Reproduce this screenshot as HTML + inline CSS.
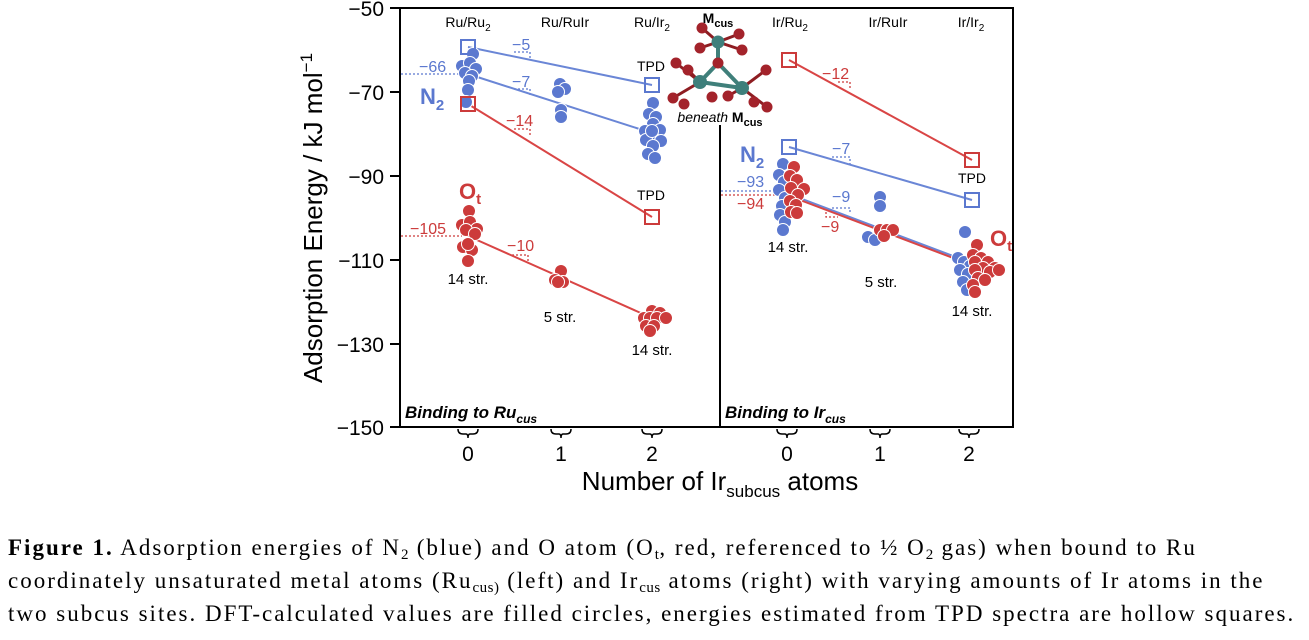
<!DOCTYPE html>
<html><head><meta charset="utf-8"><style>
body{margin:0;background:#fff;width:1309px;height:640px;overflow:hidden}
svg text{font-family:"Liberation Sans",Arial,sans-serif}
.cap{position:absolute;left:8px;top:531px;font-family:"Liberation Serif",serif;font-size:23px;line-height:33px;letter-spacing:2.0px;color:#000;white-space:nowrap}
.cap sub{font-size:15px;line-height:0;vertical-align:-4px;letter-spacing:0.5px}
</style></head><body>
<svg width="1309" height="640" style="position:absolute;left:0;top:0">
<defs>
<g id="b"><circle r="6.5" fill="#5b78cf" stroke="#fff" stroke-width="1"/></g>
<g id="r"><circle r="6.5" fill="#cc3b3b" stroke="#fff" stroke-width="1"/></g>
</defs>
<rect x="400" y="8" width="613" height="419" fill="none" stroke="#000" stroke-width="2"/>
<line x1="720" y1="125" x2="720" y2="427" stroke="#000" stroke-width="2"/>
<g stroke="#000" stroke-width="2">
<line x1="390" y1="8" x2="400" y2="8"/><line x1="390" y1="92" x2="400" y2="92"/><line x1="390" y1="176" x2="400" y2="176"/><line x1="390" y1="260" x2="400" y2="260"/><line x1="390" y1="344" x2="400" y2="344"/><line x1="390" y1="427" x2="400" y2="427"/>
</g>
<g font-size="21" text-anchor="end">
<text x="384" y="16">−50</text><text x="384" y="100">−70</text><text x="384" y="184">−90</text><text x="384" y="268">−110</text><text x="384" y="352">−130</text><text x="384" y="435">−150</text>
</g>
<text transform="translate(322,218) rotate(-90)" font-size="26" text-anchor="middle">Adsorption Energy / kJ mol<tspan dy="-10" font-size="17">−1</tspan></text>
<g fill="none" stroke="#000" stroke-width="1.5">
<path d="M458,429 q0,5 5,5 h3 q2,0 2,4 q0,-4 2,-4 h3 q5,0 5,-5"/>
<path d="M551,429 q0,5 5,5 h3 q2,0 2,4 q0,-4 2,-4 h3 q5,0 5,-5"/>
<path d="M642,429 q0,5 5,5 h3 q2,0 2,4 q0,-4 2,-4 h3 q5,0 5,-5"/>
<path d="M777,429 q0,5 5,5 h3 q2,0 2,4 q0,-4 2,-4 h3 q5,0 5,-5"/>
<path d="M870,429 q0,5 5,5 h3 q2,0 2,4 q0,-4 2,-4 h3 q5,0 5,-5"/>
<path d="M959,429 q0,5 5,5 h3 q2,0 2,4 q0,-4 2,-4 h3 q5,0 5,-5"/>
</g>
<g font-size="21" text-anchor="middle">
<text x="468" y="461">0</text><text x="561" y="461">1</text><text x="652" y="461">2</text>
<text x="787" y="461">0</text><text x="880" y="461">1</text><text x="969" y="461">2</text>
</g>
<text x="720" y="490" font-size="26" text-anchor="middle">Number of Ir<tspan dy="7" font-size="17">subcus</tspan><tspan dy="-7"> atoms</tspan></text>
<g font-size="17" font-weight="bold" font-style="italic">
<text x="405" y="418">Binding to Ru<tspan dy="5" font-size="12">cus</tspan></text>
<text x="725" y="418">Binding to Ir<tspan dy="5" font-size="12">cus</tspan></text>
</g>
<g font-size="14" text-anchor="middle">
<text x="468" y="27">Ru/Ru<tspan dy="4" font-size="10">2</tspan></text>
<text x="565" y="27">Ru/RuIr</text>
<text x="652" y="27">Ru/Ir<tspan dy="4" font-size="10">2</tspan></text>
<text x="790" y="27">Ir/Ru<tspan dy="4" font-size="10">2</tspan></text>
<text x="888" y="27">Ir/RuIr</text>
<text x="971" y="27">Ir/Ir<tspan dy="4" font-size="10">2</tspan></text>
<text x="651" y="71">TPD</text><text x="651" y="200">TPD</text><text x="972" y="183">TPD</text>
<text x="468" y="284" font-size="15">14 str.</text><text x="560" y="322" font-size="15">5 str.</text><text x="652" y="355" font-size="15">14 str.</text>
<text x="788" y="252" font-size="15">14 str.</text><text x="881" y="287" font-size="15">5 str.</text><text x="972" y="316" font-size="15">14 str.</text>
</g>
<g>
<g stroke="#3f7f7a" stroke-width="4"><line x1="718" y1="42" x2="718" y2="63"/><line x1="700" y1="82" x2="742" y2="88"/><line x1="700" y1="82" x2="718" y2="63"/><line x1="742" y1="88" x2="718" y2="63"/></g>
<g stroke="#8e1d22" stroke-width="3">
<line x1="718" y1="42" x2="702" y2="28"/><line x1="718" y1="42" x2="739" y2="34"/><line x1="718" y1="42" x2="700" y2="48"/><line x1="718" y1="42" x2="742" y2="50"/>
<line x1="700" y1="82" x2="676" y2="63"/><line x1="700" y1="82" x2="673" y2="98"/><line x1="700" y1="82" x2="688" y2="70"/>
<line x1="742" y1="88" x2="766" y2="70"/><line x1="742" y1="88" x2="767" y2="107"/><line x1="742" y1="88" x2="728" y2="96"/>
</g>
<g fill="#a3232b"><circle cx="702" cy="28" r="5.5"/><circle cx="739" cy="34" r="5.5"/><circle cx="700" cy="48" r="5.5"/><circle cx="742" cy="50" r="5.5"/><circle cx="718" cy="63" r="5.5"/><circle cx="676" cy="63" r="5.5"/><circle cx="673" cy="98" r="5.5"/><circle cx="688" cy="70" r="5.5"/><circle cx="766" cy="70" r="5.5"/><circle cx="767" cy="107" r="5.5"/><circle cx="728" cy="96" r="5.5"/><circle cx="712" cy="97" r="5.5"/><circle cx="684" cy="104" r="5.5"/><circle cx="754" cy="102" r="5.5"/></g>
<g fill="#3e7f7b"><circle cx="718" cy="42" r="6.5"/><circle cx="700" cy="82" r="7"/><circle cx="742" cy="88" r="7"/></g>
<text x="718" y="23" font-size="14" font-weight="bold" text-anchor="middle">M<tspan dy="4" font-size="11">cus</tspan></text>
<text x="720" y="122" font-size="14" text-anchor="middle"><tspan font-style="italic">beneath</tspan> <tspan font-weight="bold">M</tspan><tspan dy="4" font-size="11" font-weight="bold">cus</tspan></text>
</g>
<g stroke-dasharray="2,2" stroke-width="1.3" fill="none">
<path d="M401,74 H462" stroke="#5b78cf"/>
<path d="M401,236 H462" stroke="#cc3b3b"/>
<path d="M721,191 H782" stroke="#5b78cf"/>
<path d="M721,195 H782" stroke="#cc3b3b"/>
<path d="M514,52 H530 V59" stroke="#5b78cf"/>
<path d="M514,89 H530 V96" stroke="#5b78cf"/>
<path d="M514,129 H530 V136" stroke="#cc3b3b"/>
<path d="M512,255 H528 V262" stroke="#cc3b3b"/>
<path d="M838,82 H850 V90" stroke="#cc3b3b"/>
<path d="M832,157 H850 V164" stroke="#5b78cf"/>
<path d="M832,208 H850 V214" stroke="#5b78cf"/>
<path d="M826,212 V217 H838" stroke="#cc3b3b"/>
</g>
<g stroke-width="2">
<line x1="468" y1="47" x2="652" y2="85" stroke="#6a86d6"/>
<line x1="468" y1="74" x2="652" y2="133" stroke="#6a86d6"/>
<line x1="468" y1="104" x2="652" y2="217" stroke="#d94545"/>
<line x1="468" y1="236" x2="652" y2="318" stroke="#d94545"/>
<line x1="789" y1="60" x2="972" y2="160" stroke="#d94545"/>
<line x1="789" y1="147" x2="972" y2="200" stroke="#6a86d6"/>
<line x1="789" y1="194" x2="969" y2="262" stroke="#6a86d6"/>
<line x1="792" y1="197" x2="969" y2="264" stroke="#d94545"/>
</g>
<g>
<use href="#b" x="473" y="54"/><use href="#b" x="462" y="66"/><use href="#b" x="470" y="63"/><use href="#b" x="476" y="69"/><use href="#b" x="465" y="73"/><use href="#b" x="472" y="76"/><use href="#b" x="469" y="81"/><use href="#b" x="468" y="90"/><use href="#b" x="466" y="102"/>
<use href="#b" x="560" y="84"/><use href="#b" x="565" y="89"/><use href="#b" x="558" y="92"/><use href="#b" x="561" y="110"/><use href="#b" x="561" y="117"/>
<use href="#b" x="653" y="103"/><use href="#b" x="649" y="114"/><use href="#b" x="656" y="117"/><use href="#b" x="653" y="124"/><use href="#b" x="645" y="131"/><use href="#b" x="660" y="130"/><use href="#b" x="652" y="136"/><use href="#b" x="646" y="140"/><use href="#b" x="661" y="141"/><use href="#b" x="653" y="146"/><use href="#b" x="648" y="154"/><use href="#b" x="655" y="158"/><use href="#b" x="652" y="131"/>
</g>
<g>
<use href="#r" x="469" y="211"/><use href="#r" x="462" y="225"/><use href="#r" x="470" y="222"/><use href="#r" x="477" y="229"/><use href="#r" x="466" y="230"/><use href="#r" x="475" y="234"/><use href="#r" x="468" y="244"/><use href="#r" x="463" y="247"/><use href="#r" x="472" y="250"/><use href="#r" x="468" y="261"/><use href="#r" x="468" y="244"/>
<use href="#r" x="561" y="271"/><use href="#r" x="555" y="280"/><use href="#r" x="563" y="282"/><use href="#r" x="558" y="282"/>
<use href="#r" x="652" y="311"/><use href="#r" x="660" y="313"/><use href="#r" x="644" y="318"/><use href="#r" x="650" y="318"/><use href="#r" x="657" y="318"/><use href="#r" x="666" y="318"/><use href="#r" x="646" y="326"/><use href="#r" x="654" y="326"/><use href="#r" x="650" y="331"/>
</g>
<g>
<use href="#b" x="783" y="164"/><use href="#b" x="779" y="175"/><use href="#b" x="784" y="182"/><use href="#b" x="779" y="190"/><use href="#b" x="785" y="198"/><use href="#b" x="782" y="206"/><use href="#b" x="780" y="215"/><use href="#b" x="785" y="222"/><use href="#b" x="783" y="230"/>
<use href="#b" x="880" y="197"/><use href="#b" x="880" y="206"/><use href="#b" x="868" y="237"/><use href="#b" x="875" y="240"/>
<use href="#b" x="965" y="232"/><use href="#b" x="958" y="258"/><use href="#b" x="964" y="262"/><use href="#b" x="970" y="266"/><use href="#b" x="960" y="270"/><use href="#b" x="968" y="274"/><use href="#b" x="963" y="282"/><use href="#b" x="967" y="290"/>
</g>
<g>
<use href="#r" x="794" y="167"/><use href="#r" x="790" y="176"/><use href="#r" x="797" y="180"/><use href="#r" x="804" y="189"/><use href="#r" x="791" y="188"/><use href="#r" x="798" y="195"/><use href="#r" x="790" y="201"/><use href="#r" x="796" y="205"/><use href="#r" x="791" y="212"/><use href="#r" x="797" y="213"/>
<use href="#r" x="880" y="230"/><use href="#r" x="887" y="230"/><use href="#r" x="893" y="230"/><use href="#r" x="884" y="236"/>
<use href="#r" x="977" y="245"/><use href="#r" x="973" y="255"/><use href="#r" x="981" y="258"/><use href="#r" x="988" y="262"/><use href="#r" x="975" y="262"/><use href="#r" x="995" y="268"/><use href="#r" x="983" y="268"/><use href="#r" x="975" y="270"/><use href="#r" x="990" y="272"/><use href="#r" x="978" y="278"/><use href="#r" x="985" y="280"/><use href="#r" x="973" y="285"/><use href="#r" x="975" y="292"/><use href="#r" x="999" y="270"/>
</g>
<g fill="none" stroke-width="2">
<rect x="461" y="40" width="14" height="14" stroke="#5b78cf"/>
<rect x="645" y="78" width="14" height="14" stroke="#5b78cf"/>
<rect x="461" y="97" width="14" height="14" stroke="#cc3b3b"/>
<rect x="645" y="210" width="14" height="14" stroke="#cc3b3b"/>
<rect x="782" y="53" width="14" height="14" stroke="#cc3b3b"/>
<rect x="965" y="153" width="14" height="14" stroke="#cc3b3b"/>
<rect x="782" y="140" width="14" height="14" stroke="#5b78cf"/>
<rect x="965" y="193" width="14" height="14" stroke="#5b78cf"/>
</g>
<g font-size="16">
<text x="419" y="72" fill="#5b78cf">−66</text>
<text x="512" y="50" fill="#5b78cf">−5</text>
<text x="512" y="87" fill="#5b78cf">−7</text>
<text x="506" y="126" fill="#cc3b3b">−14</text>
<text x="410" y="234" fill="#cc3b3b">−105</text>
<text x="507" y="251" fill="#cc3b3b">−10</text>
<text x="822" y="79" fill="#cc3b3b">−12</text>
<text x="832" y="154" fill="#5b78cf">−7</text>
<text x="737" y="187" fill="#5b78cf">−93</text>
<text x="737" y="209" fill="#cc3b3b">−94</text>
<text x="832" y="202" fill="#5b78cf">−9</text>
<text x="821" y="232" fill="#cc3b3b">−9</text>
</g>
<g font-size="22" font-weight="bold">
<text x="420" y="104" fill="#5b78cf">N<tspan dy="6" font-size="15">2</tspan></text>
<text x="740" y="162" fill="#5b78cf">N<tspan dy="6" font-size="15">2</tspan></text>
<text x="459" y="199" fill="#cc3b3b">O<tspan dy="5" font-size="15">t</tspan></text>
<text x="990" y="246" fill="#cc3b3b">O<tspan dy="5" font-size="15">t</tspan></text>
</g>
</svg>
<div class="cap"><b>Figure 1.</b> Adsorption energies of N<sub>2</sub> (blue) and O atom (O<sub>t</sub>, red, referenced to ½ O<sub>2</sub> gas) when bound to Ru<br>coordinately unsaturated metal atoms (Ru<sub>cus)</sub> (left) and Ir<sub>cus</sub> atoms (right) with varying amounts of Ir atoms in the<br>two subcus sites. DFT-calculated values are filled circles, energies estimated from TPD spectra are hollow squares.</div>
</body></html>
